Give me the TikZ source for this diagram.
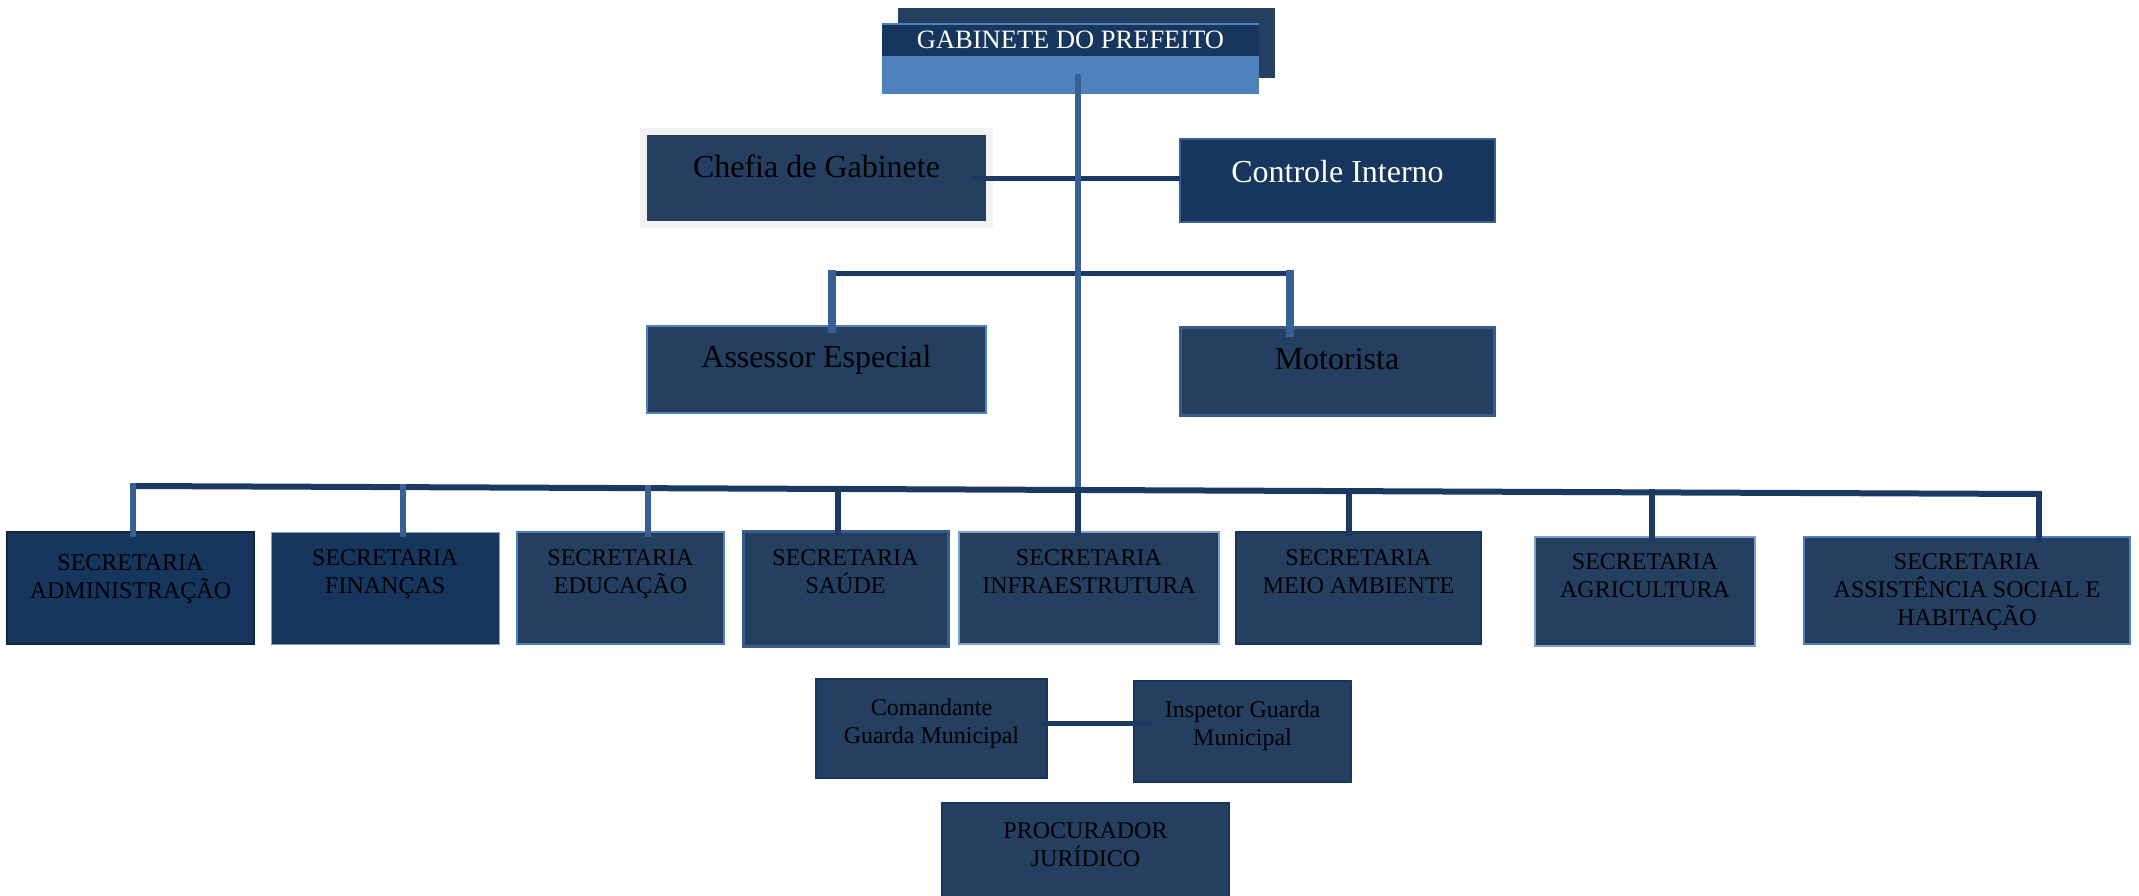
\documentclass[tikz,border=0pt]{standalone}
\usepackage{fontspec}
\setmainfont{Liberation Serif}
\usetikzlibrary{calc}

\definecolor{navy}{HTML}{17365D}
\definecolor{slate}{HTML}{243F60}
\definecolor{steel}{HTML}{4F81BD}
\definecolor{linkblue}{HTML}{386095}
\definecolor{linkdark}{HTML}{1A3A63}
\definecolor{edgeblue}{HTML}{385D8A}
\definecolor{edgelight}{HTML}{7F9FCF}
\definecolor{edgedark}{HTML}{10253F}
\definecolor{framegray}{HTML}{F2F2F2}

\begin{document}
\begin{tikzpicture}[x=1pt,y=-1pt,
    box/.style={rectangle, anchor=north west, inner sep=0pt, outer sep=0pt, fill=slate},
    sectext/.style={anchor=north, align=center, inner sep=0pt,
        font=\fontsize{24}{28}\selectfont, execute at begin node={\rule{0pt}{24pt}}},
    bigtext/.style={anchor=north, inner sep=0pt,
        font=\fontsize{32}{38}\selectfont, execute at begin node={\rule{0pt}{32pt}}},
    link/.style={line width=6pt, draw=linkblue},
    linkdk/.style={line width=5pt, draw=linkdark}]

    \useasboundingbox (0,0) rectangle (2139,896);

    % Gabinete do Prefeito
    \fill[slate] (898,8) rectangle (1275,78);
    \node[box, fill=steel, minimum width=377pt, minimum height=70pt] (gab) at (882,24) {};
    \node[box, fill=navy, minimum width=377pt, minimum height=32pt, text=white,
        font=\fontsize{26.5}{30}\selectfont] (gab-t) at (882,24) {GABINETE DO PREFEITO};
    \draw[steel, line width=1.5pt] (gab-t.north west) -- (gab-t.north east);
    \coordinate (tronco) at (1078,74);

    % Chefia e Controle
    \node[box, fill=framegray, minimum width=353pt, minimum height=100pt] (chefia-f) at (640,128) {};
    \node[box, minimum width=339pt, minimum height=86pt] (chefia) at (647,135) {};
    \node[bigtext] (chefia-t) at ([yshift=-10pt]chefia.north) {Chefia de Gabinete};

    \node[box, fill=navy, draw=linkblue, line width=2.5pt, minimum width=315pt,
        minimum height=83pt] (controle) at (1180,139) {};
    \node[bigtext, text=white] (controle-t) at ([yshift=-11pt]controle.north) {Controle Interno};

    % Assessor e Motorista
    \node[box, draw=steel, line width=2.5pt, minimum width=339pt, minimum height=87pt] (assessor) at (647,326) {};
    \node[bigtext] (assessor-t) at ([yshift=-9pt]assessor.north) {Assessor Especial};

    \node[box, draw=edgeblue, line width=3pt, minimum width=314pt, minimum height=88pt] (motorista) at (1180,327) {};
    \node[bigtext] (motorista-t) at ([yshift=-10pt]motorista.north) {Motorista};

    % Secretarias
    \foreach \nm/\xx/\yy/\ww/\hh/\fc/\dc/\lw/\off/\txt in {
        sadm/7/532/247/112/navy/edgedark/1.5/22/{SECRETARIA\\ADMINISTRAÇÃO},
        sfin/271.5/532/227.5/112/navy/edgelight/1/17/{SECRETARIA\\FINANÇAS},
        sedu/517/532/207/112/slate/steel/2/17/{SECRETARIA\\EDUCAÇÃO},
        ssau/743/531/205/115/slate/edgeblue/3/18/{SECRETARIA\\SAÚDE},
        sinf/959/532/260/112/slate/edgelight/1.5/17/{SECRETARIA\\INFRAESTRUTURA},
        smei/1236/532/245/112/slate/navy/2/17/{SECRETARIA\\MEIO AMBIENTE},
        sagr/1535/537/220/109/slate/edgelight/2/16/{SECRETARIA\\AGRICULTURA},
        sass/1804/537/326/107/slate/steel/2/16/{SECRETARIA\\ASSISTÊNCIA SOCIAL E\\HABITAÇÃO}}
    {
        \node[box, fill=\fc, draw=\dc, line width=\lw pt, minimum width=\ww pt,
            minimum height=\hh pt] (\nm) at (\xx,\yy) {};
        \node[sectext] (\nm-t) at ([yshift=-\off pt]\nm.north) {\txt};
    }

    % Guarda Municipal e Procurador
    \node[box, draw=navy, line width=2pt, minimum width=231pt, minimum height=99pt] (cmd) at (816,679) {};
    \node[sectext] (cmd-t) at ([yshift=-20pt]cmd.north) {Comandante\\Guarda Municipal};
    \node[box, draw=navy, line width=2pt, minimum width=217pt, minimum height=101pt] (insp) at (1134,681) {};
    \node[sectext] (insp-t) at ([yshift=-20pt]insp.north) {Inspetor Guarda\\Municipal};
    \node[box, draw=navy, line width=2pt, minimum width=287pt, minimum height=96pt] (proc) at (942,803) {};
    \node[sectext] (proc-t) at ([yshift=-19pt]proc.north) {PROCURADOR\\JURÍDICO};

    % Ligações
    \draw[linkdk] ($(chefia.east)+(-14,1)$) -- ($(chefia.east -| controle.west)+(0,1)$);

    \coordinate (asj) at (832,273.5);
    \coordinate (moj) at (1290,273.5);
    \draw[linkdk] (asj) -- (moj);
    \draw[link, line width=8pt] ([yshift=4pt]asj) -- ($(asj |- assessor.north)+(0,7)$);
    \draw[link, line width=8pt] ([yshift=4pt]moj) -- ($(moj |- motorista.north)+(0,10)$);

    \foreach \nm/\dx/\dy in {sadm/133/486, sfin/402.7/487.1, sedu/647.5/488.2, ssau/838/489,
        sinf/1078/490, smei/1348.5/491.1, sagr/1652/492.4, sass/2039/494}
        \coordinate (\nm-j) at (\dx,\dy);

    \draw[link] (tronco) -- (sinf-j);
    \draw[linkdk, line width=6pt] (sadm-j) -- (sass-j);
    \draw[linkdk, line width=6pt] (sinf-j) -- ($(sinf-j |- sinf.north)+(0,4)$);
    \foreach \nm/\c in {sadm/linkblue, sfin/linkblue, sedu/linkblue, ssau/linkdark,
        smei/linkdark, sagr/linkdark, sass/linkdark}
        \draw[line width=6pt, draw=\c] ([yshift=3pt]\nm-j) -- ($(\nm-j |- \nm.north)+(0,5)$);

    \draw[linkdk] ($(cmd.north east)+(-6,44)$) -- ($(insp.north west)+(19,42)$);
\end{tikzpicture}
\end{document}
